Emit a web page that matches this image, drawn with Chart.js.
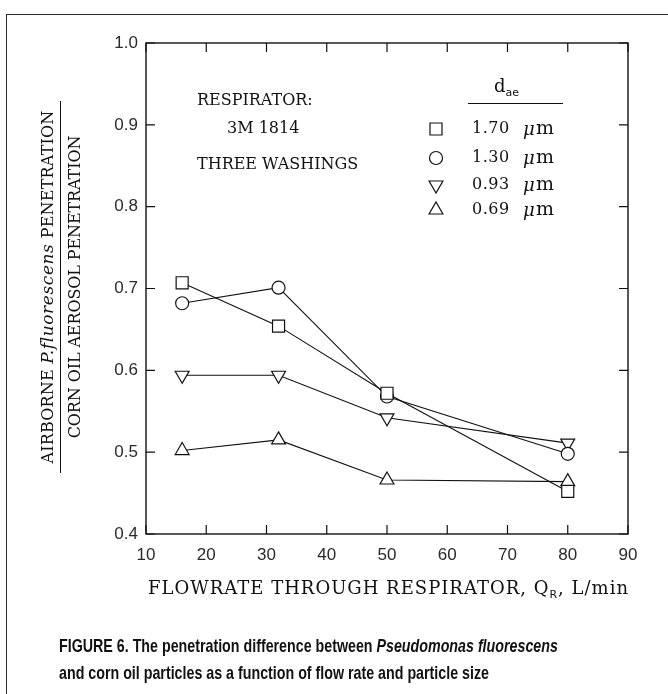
<!DOCTYPE html>
<html>
<head>
<meta charset="utf-8">
<script src="https://cdn.jsdelivr.net/npm/chart.js@4.4.0/dist/chart.umd.min.js"></script>
<style>
    html, body { margin: 0; padding: 0; background: #fff; }
    #wrap { position: relative; width: 668px; height: 694px; overflow: hidden; }
    #frame { position: absolute; left: 6px; top: 14px; width: 720px; height: 720px;
             border-left: 1.5px solid #2a2a2a; border-top: 1.5px solid #2a2a2a; }
    canvas { position: absolute; left: 0; top: 0; }
    .t { position: absolute; font-family: 'DejaVu Serif', serif; font-size: 16px; color: #111;
         white-space: nowrap; line-height: 18px; }
    .t sub { font-family: 'DejaVu Sans', sans-serif; font-size: 11px; vertical-align: -4px; }
    .t i { font-family: 'DejaVu Serif', serif; font-style: italic; }
    #xtitle { font-size: 18px; letter-spacing: 1px; }
    #ytitle { position: absolute; left: -125px; top: 259px; width: 372px; height: 56px;
              transform: rotate(-90deg); transform-origin: 50% 50%; font-size: 16px; }
    #ytitle div { text-align: center; height: 28px; line-height: 28px; position: static; }
    #ytitle .num { border-bottom: 1.2px solid #111; box-sizing: border-box; letter-spacing: 0.2px; }
    #ytitle .den { letter-spacing: -0.1px; }
    #ytitle i { font-size: 17px; letter-spacing: 0.6px; }
    #legline { position: absolute; left: 468px; top: 103px; width: 95px; border-top: 1.2px solid #111; }
    #caption { position: absolute; left: 59px; top: 632px; font-family: 'Liberation Sans', sans-serif;
               font-weight: bold; font-size: 19px; line-height: 27px; color: #111;
               transform: scaleX(0.75); transform-origin: 0 0; white-space: nowrap; }
</style>
</head>
<body>
<div id="wrap">
    <div id="frame"></div>
    <canvas id="chart" width="668" height="694"></canvas>

    <!-- textes de la figure -->
    <div class="t" style="left:197px; top:91px;">RESPIRATOR:</div>
    <div class="t" style="left:227px; top:119px;">3M 1814</div>
    <div class="t" style="left:197px; top:155px;">THREE WASHINGS</div>

    <div class="t" style="left:494px; top:77px; font-size:18px;">d<sub>ae</sub></div>
    <div id="legline"></div>

    <div class="t" id="ytitle">
        <div class="num">AIRBORNE <i>P.fluorescens</i> PENETRATION</div>
        <div class="den">CORN OIL AEROSOL PENETRATION</div>
    </div>

    <div class="t" id="xtitle" style="left:148px; top:579px;">FLOWRATE THROUGH RESPIRATOR, Q<sub>R</sub>, L/min</div>

    <div id="caption">FIGURE 6. The penetration difference between <i>Pseudomonas fluorescens</i><br>and corn oil particles as a function of flow rate and particle size</div>
</div>

<script>
// --- données ---
const flowRates = [16, 32, 50, 80];               // L/min
const pen170 = [0.707, 0.654, 0.572, 0.452];      // 1.70 µm
const pen130 = [0.682, 0.701, 0.568, 0.498];      // 1.30 µm
const pen093 = [0.594, 0.594, 0.542, 0.511];      // 0.93 µm
const pen069 = [0.502, 0.515, 0.466, 0.464];      // 0.69 µm

const sizeLabels = ['1.70', '1.30', '0.93', '0.69'];
const xTicks = [10, 20, 30, 40, 50, 60, 70, 80, 90];
const yTicks = [0.4, 0.5, 0.6, 0.7, 0.8, 0.9, 1.0];

const INK = '#111';

function toPoints(values) {
    return values.map((v, i) => ({ x: flowRates[i], y: v }));
}

function series(label, values, style, radius, rotation) {
    return {
        label: label,
        data: toPoints(values),
        borderColor: INK,
        borderWidth: 1.1,
        pointStyle: style,
        pointRadius: radius,
        pointRotation: rotation,
        pointBackgroundColor: '#fff',
        pointBorderColor: INK,
        pointBorderWidth: 1.2,
        tension: 0
    };
}

// cadre + graduations vers l'intérieur + symboles de légende
const framePlugin = {
    id: 'frame',
    afterDraw(chart) {
        const { ctx, chartArea: a, scales: { x, y } } = chart;
        const tick = 9;
        ctx.save();
        ctx.strokeStyle = INK;
        ctx.lineWidth = 1.4;
        ctx.strokeRect(a.left, a.top, a.right - a.left, a.bottom - a.top);
        ctx.lineWidth = 1.2;
        ctx.beginPath();
        x.ticks.forEach(t => {
            const px = x.getPixelForValue(t.value);
            ctx.moveTo(px, a.bottom); ctx.lineTo(px, a.bottom - tick);
            ctx.moveTo(px, a.top); ctx.lineTo(px, a.top + tick);
        });
        y.ticks.forEach(t => {
            const py = y.getPixelForValue(t.value);
            ctx.moveTo(a.left, py); ctx.lineTo(a.left + tick, py);
            ctx.moveTo(a.right, py); ctx.lineTo(a.right - tick, py);
        });
        ctx.stroke();

        // légende
        const rows = [129, 158, 185, 210];
        ctx.fillStyle = '#fff';
        ctx.strokeStyle = INK;
        ctx.lineWidth = 1.2;
        chart.data.datasets.forEach((ds, i) => {
            Chart.helpers.drawPoint(ctx, {
                pointStyle: ds.pointStyle,
                radius: ds.pointRadius,
                rotation: ds.pointRotation,
                borderWidth: 1.2
            }, 436, rows[i]);
            ctx.save();
            ctx.fillStyle = INK;
            ctx.textBaseline = 'middle';
            ctx.font = '16px "DejaVu Serif", serif';
            ctx.letterSpacing = '0.5px';
            ctx.fillText(ds.label, 472, rows[i]);
            ctx.font = 'italic 18px "DejaVu Serif", serif';
            ctx.fillText('\u03bc', 523, rows[i] + 1);
            ctx.font = '19px "DejaVu Serif", serif';
            ctx.fillText('m', 536, rows[i]);
            ctx.restore();
        });
        ctx.restore();
    }
};

new Chart(document.getElementById('chart'), {
    type: 'line',
    data: {
        datasets: [
            series(sizeLabels[0], pen170, 'rect', 8.5, 0),
            series(sizeLabels[1], pen130, 'circle', 6.5, 0),
            series(sizeLabels[2], pen093, 'triangle', 8, 180),
            series(sizeLabels[3], pen069, 'triangle', 8, 0)
        ]
    },
    options: {
        responsive: false,
        animation: false,
        events: [],
        layout: { padding: { left: 0, right: 40, top: 43, bottom: 0 } },
        plugins: { legend: { display: false }, tooltip: { enabled: false } },
        scales: {
            x: {
                type: 'linear',
                min: 10, max: 90,
                afterBuildTicks: s => { s.ticks = xTicks.map(v => ({ value: v })); },
                afterFit: s => { s.height = 160; },
                grid: { display: false, drawTicks: false },
                border: { display: false },
                ticks: { padding: 11, color: '#2a2a2a', font: { family: 'Liberation Sans', size: 17 },
                         maxRotation: 0, callback: v => String(v) }
            },
            y: {
                type: 'linear',
                min: 0.4, max: 1.0,
                afterBuildTicks: s => { s.ticks = yTicks.map(v => ({ value: v })); },
                afterFit: s => { s.width = 146; },
                grid: { display: false, drawTicks: false },
                border: { display: false },
                ticks: { padding: 8, color: '#2a2a2a', font: { family: 'Liberation Sans', size: 17 },
                         callback: v => v.toFixed(1) }
            }
        }
    },
    plugins: [framePlugin]
});
</script>
</body>
</html>
